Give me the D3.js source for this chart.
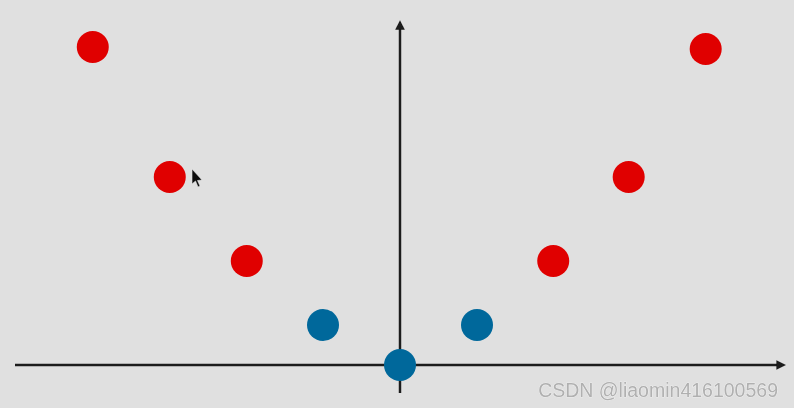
<!DOCTYPE html>
<html>
<head>
<meta charset="utf-8">
<script src="https://cdn.jsdelivr.net/npm/d3@7"></script>
<style>
  html, body { margin: 0; padding: 0; background: #e0e0e0; }
  svg { display: block; }
</style>
</head>
<body>
<svg id="chart" width="794" height="408"></svg>
<script>
// Data
const redX = [-3.99, -2.99, -1.99, 1.99, 2.97, 3.97];
const redY = [7.95, 4.7, 2.6, 2.6, 4.7, 7.9];
const blueX = [-1, 0, 1];
const blueY = [1, 0, 1];
const watermark = "CSDN @liaomin416100569";

const W = 794, H = 408;
const svg = d3.select("#chart");

const x = d3.scaleLinear().domain([-5, 5]).range([15, 785]);
const y = d3.scaleLinear().domain([0, 8.575]).range([365, 22]);

const defs = svg.append("defs");
defs.append("filter").attr("id", "soft")
  .attr("x", "-10%").attr("y", "-10%").attr("width", "120%").attr("height", "120%")
  .append("feGaussianBlur").attr("stdDeviation", 0.7);
defs.append("marker").attr("id", "arrow")
  .attr("viewBox", "0 0 10 10").attr("refX", 5).attr("refY", 5)
  .attr("markerWidth", 4).attr("markerHeight", 4).attr("orient", "auto")
  .append("path").attr("d", "M0,0 L10,5 L0,10 z").attr("fill", "#1a1a1a");

svg.append("rect").attr("width", W).attr("height", H).attr("fill", "#e0e0e0");

const g = svg.append("g").attr("filter", "url(#soft)");

// Axes (through scales)
const xAxis = d3.axisBottom(x).tickValues([]).tickSizeOuter(0);
const yAxis = d3.axisLeft(y).tickValues([]).tickSizeOuter(0);
const xg = g.append("g").attr("transform", `translate(0,${y(0)})`).call(xAxis);
xg.select(".domain").attr("stroke", "#1a1a1a").attr("stroke-width", 2.4).attr("marker-end", "url(#arrow)")
  .attr("d", `M${x(-5)},0H${x(4.95)}`);
const yg = g.append("g").attr("transform", `translate(${x(0)},0)`).call(yAxis);
yg.select(".domain").attr("stroke", "#1a1a1a").attr("stroke-width", 2.4).attr("marker-end", "url(#arrow)")
  .attr("d", `M0,${y(-0.7)}V${y(8.5)}`);

// Points
g.selectAll("circle.red").data(redX.map((v, i) => [v, redY[i]])).join("circle")
  .attr("class", "red").attr("cx", d => x(d[0])).attr("cy", d => y(d[1]))
  .attr("r", 16).attr("fill", "#e00006");
g.selectAll("circle.blue").data(blueX.map((v, i) => [v, blueY[i]])).join("circle")
  .attr("class", "blue").attr("cx", d => x(d[0])).attr("cy", d => y(d[1]))
  .attr("r", 16).attr("fill", "#02689b");

// Mouse cursor
g.append("path")
  .attr("d", "M192,169 L192,184 L195.5,181 L198,187 L200,186 L197.5,180.5 L202,180 Z")
  .attr("fill", "#111").attr("stroke", "#e8e8e8").attr("stroke-width", 0.6);

// Watermark
svg.append("text").attr("x", 778).attr("y", 397).attr("text-anchor", "end")
  .attr("font-family", "Liberation Sans, Arial, sans-serif").attr("font-size", 19.5)
  .attr("fill", "#b0b0b0").attr("stroke", "#f6f6f6").attr("stroke-width", 0.7)
  .attr("paint-order", "stroke")
  .text(watermark);
</script>
</body>
</html>
